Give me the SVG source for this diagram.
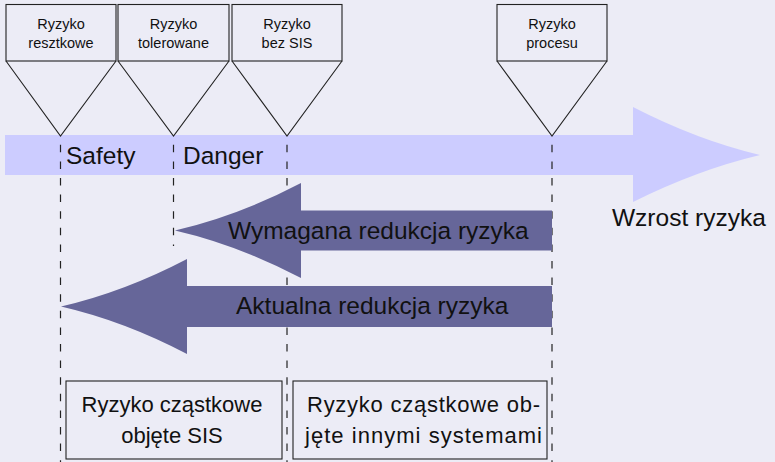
<svg xmlns="http://www.w3.org/2000/svg" width="775" height="462" viewBox="0 0 775 462">
  <defs>
    <style>
      .box { fill: none; stroke: #222; stroke-width: 1.1; }
      .guide { fill: none; stroke: #222; stroke-width: 1.2; stroke-dasharray: 7.5 9.1; stroke-dashoffset: 7.8; }
      .small { font-family: "Liberation Sans", Arial, sans-serif; font-size: 14.5px; fill: #111; text-anchor: middle; }
      .big { font-family: "Liberation Sans", Arial, sans-serif; font-size: 24.5px; fill: #111; }
      .mid { font-family: "Liberation Sans", Arial, sans-serif; font-size: 22px; fill: #111; }
      .light { fill: #CCCCFF; }
      .dark { fill: #666699; }
    </style>
  </defs>

  <!-- page background -->
  <rect x="0" y="0" width="775" height="462" fill="#ECECF6"/>

  <!-- risk growth axis -->
  <g id="axis">
    <path class="light" d="M5,135 H633 V107 Q697,140 760,155 Q697,170 633,202 V175 H5 Z"/>
    <text class="big" x="612" y="226">Wzrost ryzyka</text>
    <text class="big" x="66" y="164">Safety</text>
    <text class="big" x="183" y="164">Danger</text>
  </g>

  <!-- vertical guide lines -->
  <g id="connectors">
    <line class="guide" x1="60.5" y1="136" x2="60.5" y2="462"/>
    <line class="guide" x1="173.5" y1="136" x2="173.5" y2="246"/>
    <line class="guide" x1="287" y1="136" x2="287" y2="462"/>
    <line class="guide" x1="552" y1="136" x2="552" y2="462"/>
  </g>

  <!-- risk level markers -->
  <g id="ryzyko-resztkowe">
    <rect class="box" x="6" y="4.5" width="110" height="56.5"/>
    <path class="box" d="M6,61 L60.5,136 L116,61"/>
    <text class="small" x="61" y="29">Ryzyko</text>
    <text class="small" x="61" y="48">resztkowe</text>
  </g>
  <g id="ryzyko-tolerowane">
    <rect class="box" x="118" y="4.5" width="111" height="56.5"/>
    <path class="box" d="M118,61 L173.5,136 L229,61"/>
    <text class="small" x="173.5" y="29">Ryzyko</text>
    <text class="small" x="173.5" y="48">tolerowane</text>
  </g>
  <g id="ryzyko-bez-sis">
    <rect class="box" x="232" y="4.5" width="110" height="56.5"/>
    <path class="box" d="M232,61 L287,136 L342,61"/>
    <text class="small" x="287" y="29">Ryzyko</text>
    <text class="small" x="287" y="48">bez SIS</text>
  </g>
  <g id="ryzyko-procesu">
    <rect class="box" x="497" y="4.5" width="110" height="56.5"/>
    <path class="box" d="M497,61 L552,136 L607,61"/>
    <text class="small" x="552" y="29">Ryzyko</text>
    <text class="small" x="552" y="48">procesu</text>
  </g>

  <!-- required reduction -->
  <g id="wymagana-redukcja">
    <path class="dark" d="M552,210.5 H301 V183 Q238,216 175,230.5 Q238,245 301,278 V250.5 H552 Z"/>
    <text class="big" x="228" y="239">Wymagana redukcja ryzyka</text>
  </g>

  <!-- actual reduction -->
  <g id="aktualna-redukcja">
    <path class="dark" d="M552,286 H187 V259 Q124,292 61,306.5 Q124,321 187,354 V327 H552 Z"/>
    <text class="big" x="236" y="314">Aktualna redukcja ryzyka</text>
  </g>

  <!-- partial risk boxes -->
  <g id="ryzyko-sis">
    <rect class="box" x="66" y="381" width="216" height="78"/>
    <text class="mid" x="172" y="412" text-anchor="middle">Ryzyko cząstkowe</text>
    <text class="mid" x="172" y="443" text-anchor="middle">objęte SIS</text>
  </g>
  <g id="ryzyko-inne">
    <rect class="box" x="293" y="381" width="254" height="78"/>
    <text class="mid" x="307" y="412" textLength="233" lengthAdjust="spacing">Ryzyko cząstkowe ob-</text>
    <text class="mid" x="305" y="443" textLength="237" lengthAdjust="spacing">jęte innymi systemami</text>
  </g>
</svg>
